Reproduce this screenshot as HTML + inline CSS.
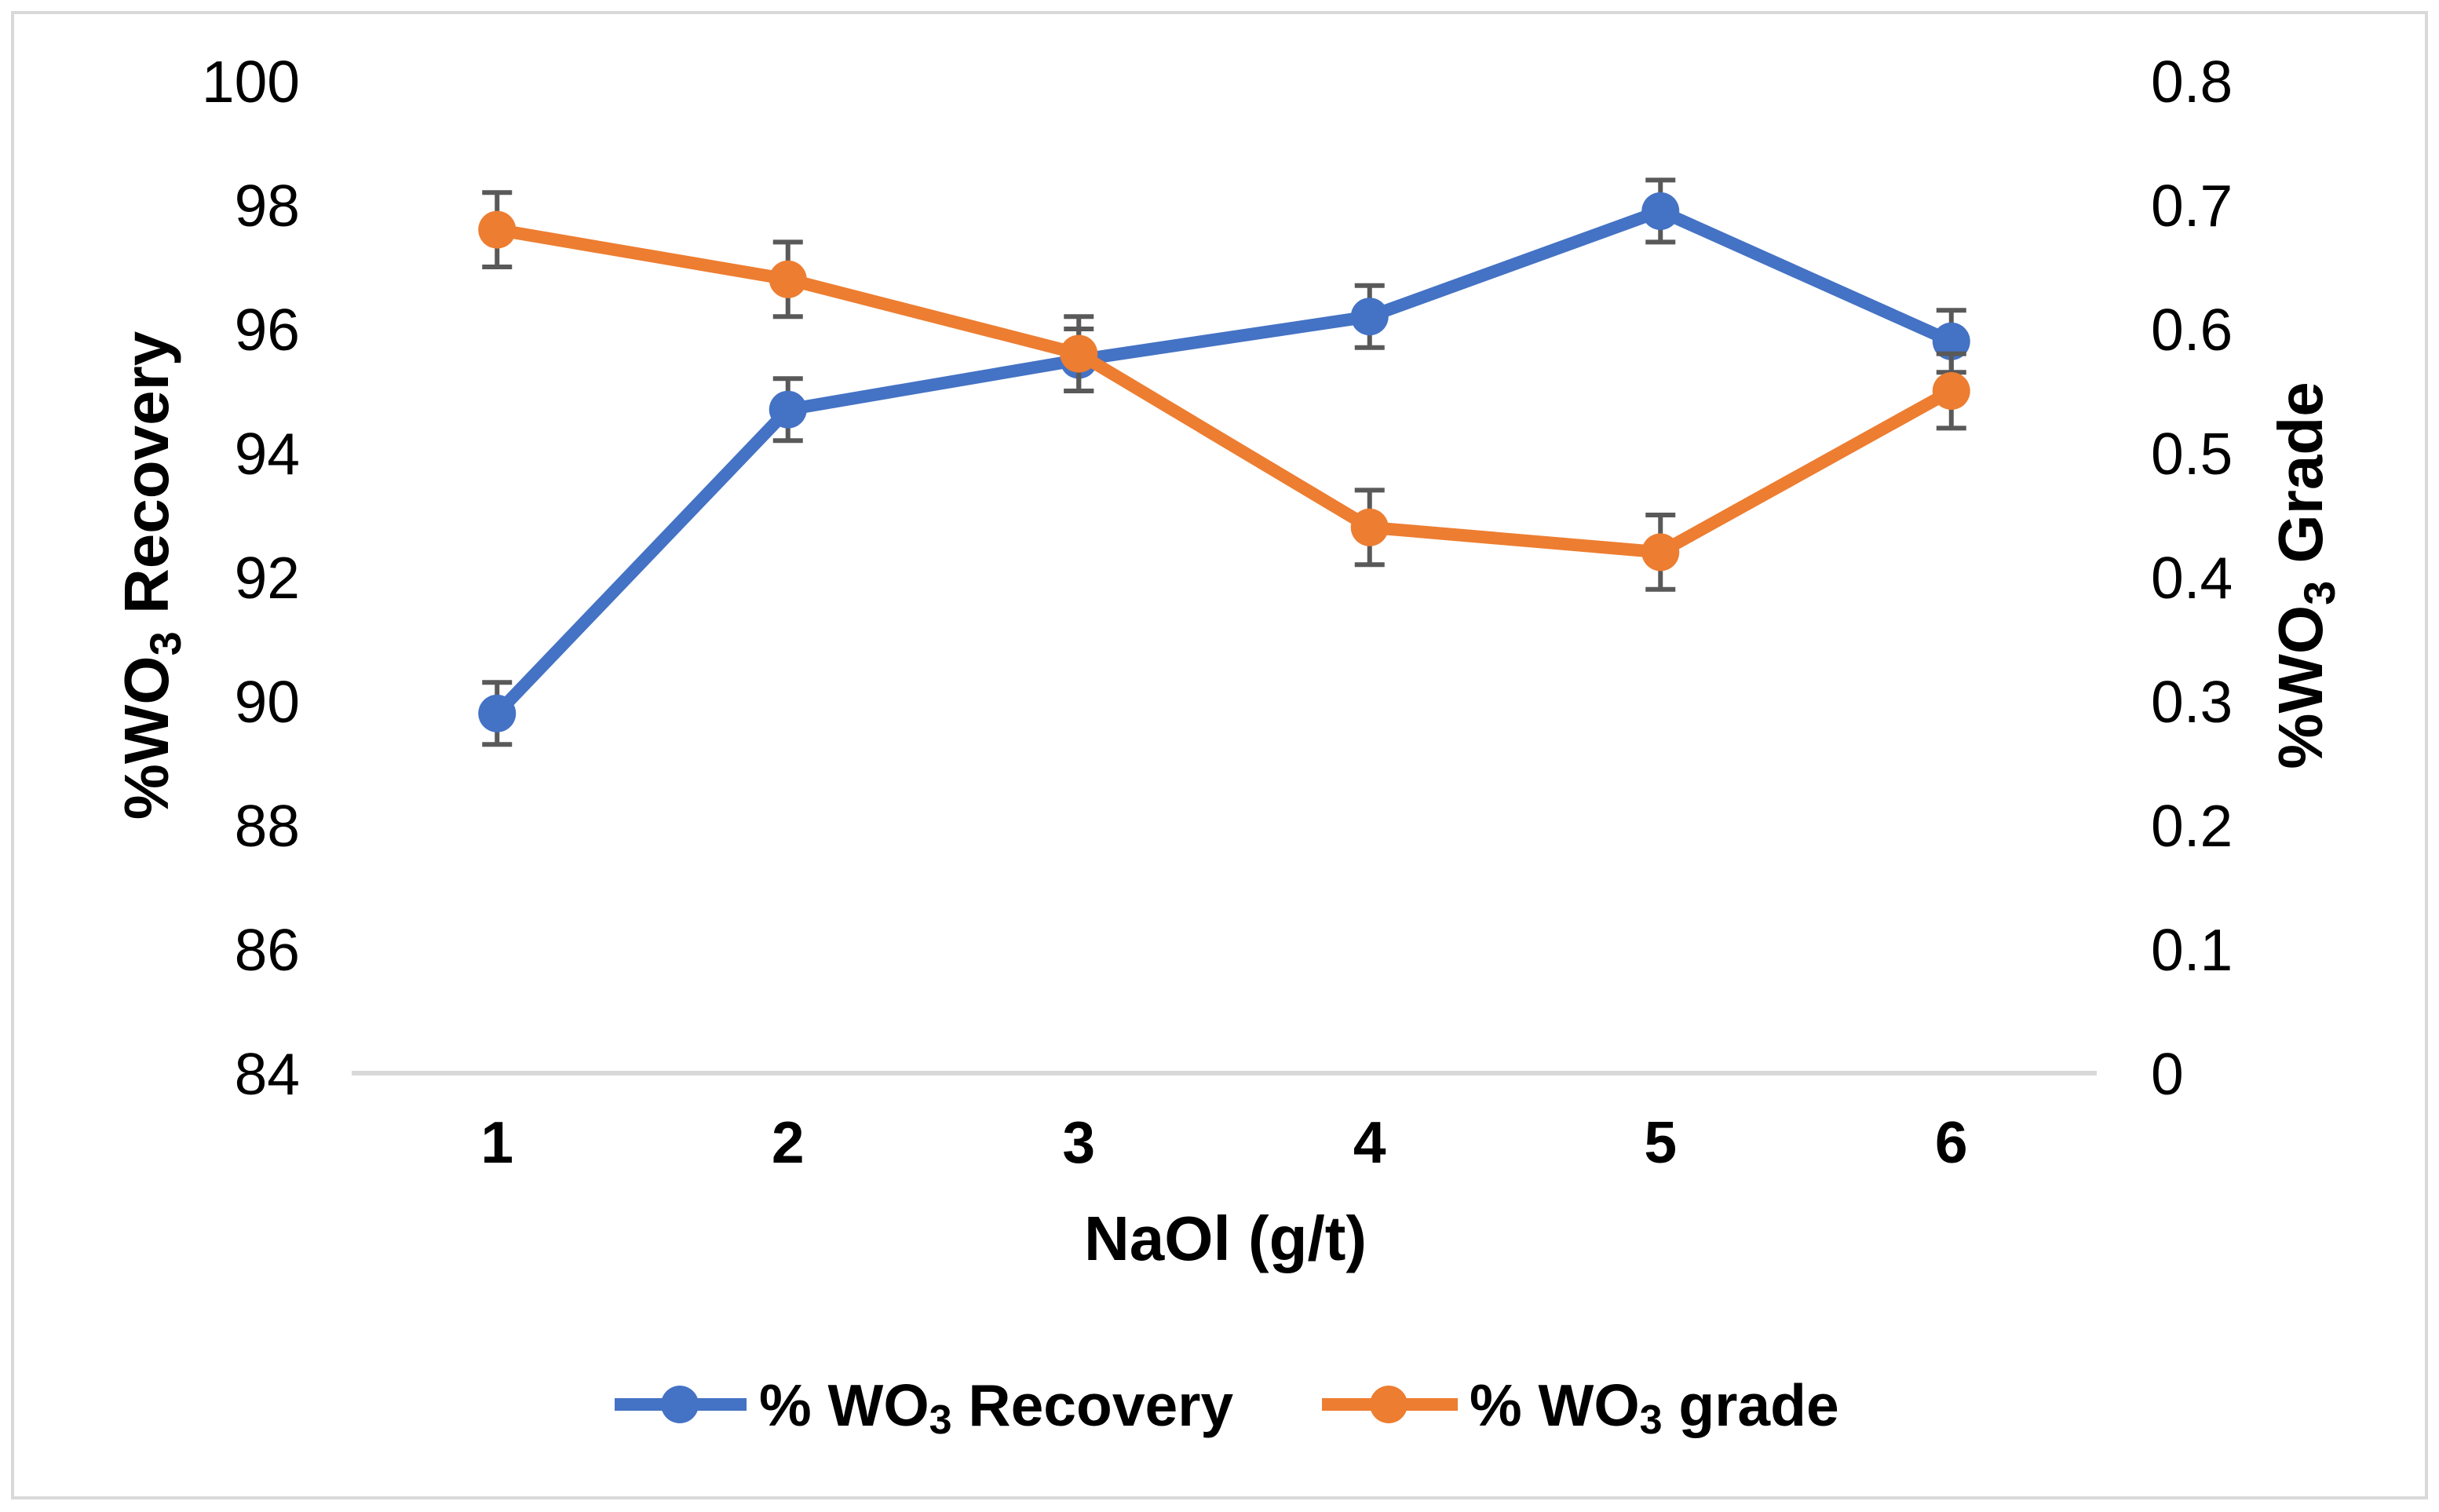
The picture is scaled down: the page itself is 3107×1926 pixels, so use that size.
<!DOCTYPE html>
<html><head><meta charset="utf-8"><style>
html,body{margin:0;padding:0;background:#fff}
svg{display:block;font-family:"Liberation Sans",Arial,sans-serif}
</style></head><body>
<svg id="chart" width="3107" height="1926" viewBox="0 0 3107 1926" xmlns="http://www.w3.org/2000/svg">
<rect x="16" y="16" width="3075" height="1892" fill="#fff" stroke="#d9d9d9" stroke-width="4"/>
<line x1="448" y1="1367" x2="2671" y2="1367" stroke="#d9d9d9" stroke-width="6"/>
<g id="ticks"></g>
<g id="series"></g>
<text transform="translate(214,733) rotate(-90)" text-anchor="middle" font-size="80" font-weight="bold">%WO<tspan font-size="56" dy="16">3</tspan><tspan dy="-16"> Recovery</tspan></text>
<text transform="translate(2958,733) rotate(-90)" text-anchor="middle" font-size="80" font-weight="bold">%WO<tspan font-size="56" dy="16">3</tspan><tspan dy="-16"> Grade</tspan></text>
<text x="1561" y="1605" text-anchor="middle" font-size="80" font-weight="bold">NaOl (g/t)</text>
<g>
<g>
<line x1="783" y1="1789" x2="951" y2="1789" stroke="#4472C4" stroke-width="16"/>
<circle cx="866" cy="1789" r="24" fill="#4472C4"/>
<text x="967" y="1816" font-size="75" font-weight="bold">% WO<tspan font-size="52" dy="10">3</tspan><tspan dy="-10"> Recovery</tspan></text>
</g>
<g>
<line x1="1684" y1="1789" x2="1857" y2="1789" stroke="#ED7D31" stroke-width="16"/>
<circle cx="1769" cy="1789" r="24" fill="#ED7D31"/>
<text x="1872" y="1816" font-size="75" font-weight="bold">% WO<tspan font-size="52" dy="10">3</tspan><tspan dy="-10"> grade</tspan></text>
</g>
</g>
</svg>
<script>
const categories = [1, 2, 3, 4, 5, 6];
const recovery = [89.8, 94.7, 95.5, 96.2, 97.9, 95.8];
const recoveryErr = [0.5, 0.5, 0.5, 0.5, 0.5, 0.5];
const grade = [0.68, 0.64, 0.58, 0.44, 0.42, 0.55];
const gradeErr = [0.03, 0.03, 0.03, 0.03, 0.03, 0.03];
const leftTicks = [84, 86, 88, 90, 92, 94, 96, 98, 100];
const rightTicks = ["0", "0.1", "0.2", "0.3", "0.4", "0.5", "0.6", "0.7", "0.8"];

const NS = "http://www.w3.org/2000/svg";
const X0 = 448, X1 = 2671, Y0 = 1367, Y1 = 103;
const xScale = i => X0 + (X1 - X0) / categories.length * (i + 0.5);
const yL = v => Y0 - (v - 84) / (100 - 84) * (Y0 - Y1);
const yR = v => Y0 - v / 0.8 * (Y0 - Y1);
function mk(tag, attrs, parent) {
  const e = document.createElementNS(NS, tag);
  for (const k in attrs) e.setAttribute(k, attrs[k]);
  parent.appendChild(e);
  return e;
}
const ticks = document.getElementById('ticks');
leftTicks.forEach(v => {
  const t = mk('text', {x: 382, y: yL(v) + 27, 'text-anchor': 'end', 'font-size': 75}, ticks);
  
  
  t.textContent = v;
});
rightTicks.forEach(v => {
  const t = mk('text', {x: 2740, y: yR(parseFloat(v)) + 27, 'font-size': 75}, ticks);
  
  
  t.textContent = v;
});
categories.forEach((c, i) => {
  const t = mk('text', {x: xScale(i), y: 1481, 'text-anchor': 'middle', 'font-size': 75, 'font-weight': 'bold'}, ticks);
  
  
  t.textContent = c;
});
const series = document.getElementById('series');
function drawSeries(vals, errs, ys, color, name) {
  const g = mk('g', {}, series);
  
  
  const pts = vals.map((v, i) => xScale(i) + ',' + ys(v)).join(' ');
  const pl = mk('polyline', {points: pts, fill: 'none', stroke: color, 'stroke-width': 16, 'stroke-linejoin': 'round'}, g);
  
  
  vals.forEach((v, i) => {
    const x = xScale(i), yt = ys(v + errs[i]), yb = ys(v - errs[i]);
    const eb = mk('path', {d: `M${x},${yt}V${yb}M${x-19},${yt}H${x+19}M${x-19},${yb}H${x+19}`, stroke: '#595959', 'stroke-width': 6, fill: 'none'}, g);
    
    
  });
  vals.forEach((v, i) => {
    const c = mk('circle', {cx: xScale(i), cy: ys(v), r: 24, fill: color}, g);
    
    
  });
}
drawSeries(recovery, recoveryErr, yL, '#4472C4', 'recovery');
drawSeries(grade, gradeErr, yR, '#ED7D31', 'grade');
</script>
</body></html>
